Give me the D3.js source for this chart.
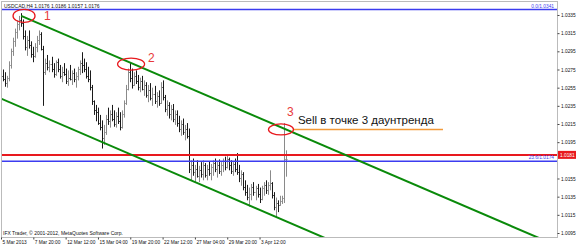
<!DOCTYPE html>
<html><head><meta charset="utf-8">
<script src="https://cdn.jsdelivr.net/npm/d3@7"></script>
<style>body{margin:0;background:#fff}svg{display:block}</style>
</head><body>
<svg id="c" width="576" height="246"></svg>
<script>
// ---------- DATA ----------
const symbol = "USDCAD,H4 1.0176 1.0186 1.0157 1.0176";
const copyright = "IFX Trader, \u00a9 2001-2012, MetaQuotes Software Corp.";
const xLabelBars = [0, 16, 32, 48, 64, 80, 96, 112, 128];
const xLabels = ["5 Mar 2013","7 Mar 20:00","12 Mar 12:00","15 Mar 04:00","19 Mar 20:00","22 Mar 12:00","27 Mar 04:00","29 Mar 20:00","3 Apr 12:00"];
const yTicks = [1.0335,1.0315,1.0295,1.0275,1.0255,1.0235,1.0215,1.0195,1.0155,1.0135,1.0115,1.0095];
const opens = [1.0262,1.0268,1.0265,1.0260,1.0266,1.0280,1.0295,1.0306,1.0316,1.0325,
1.0330,1.0326,1.0312,1.0300,1.0308,1.0302,1.0292,1.0290,1.0300,1.0308,
1.0314,1.0298,1.0272,1.0282,1.0278,1.0281,1.0276,1.0270,1.0283,1.0276,
1.0268,1.0272,1.0270,1.0262,1.0266,1.0265,1.0271,1.0264,1.0268,1.0276,
1.0282,1.0280,1.0276,1.0268,1.0264,1.0256,1.0240,1.0230,1.0228,1.0216,
1.0212,1.0200,1.0206,1.0220,1.0218,1.0226,1.0221,1.0215,1.0224,1.0218,
1.0212,1.0226,1.0238,1.0254,1.0272,1.0266,1.0258,1.0268,1.0262,1.0256,
1.0262,1.0254,1.0258,1.0247,1.0252,1.0244,1.0248,1.0240,1.0246,1.0238,
1.0256,1.0245,1.0232,1.0236,1.0226,1.0232,1.0220,1.0226,1.0216,1.0210,
1.0215,1.0206,1.0210,1.0202,1.0166,1.0170,1.0162,1.0166,1.0158,1.0164,
1.0160,1.0170,1.0159,1.0165,1.0161,1.0168,1.0172,1.0165,1.0170,1.0163,
1.0170,1.0174,1.0168,1.0176,1.0170,1.0163,1.0171,1.0166,1.0162,1.0155,
1.0160,1.0146,1.0140,1.0135,1.0138,1.0146,1.0140,1.0144,1.0138,1.0132,
1.0144,1.0148,1.0142,1.0148,1.0150,1.0137,1.0124,1.0128,1.0126,1.0130,
1.0133,1.0176];
const highs = [1.0270,1.0275,1.0272,1.0268,1.0284,1.0298,1.0310,1.0320,1.0329,1.0334,
1.0337,1.0330,1.0318,1.0312,1.0318,1.0306,1.0300,1.0304,1.0312,1.0318,
1.0316,1.0301,1.0287,1.0291,1.0285,1.0289,1.0282,1.0285,1.0287,1.0280,
1.0278,1.0282,1.0276,1.0274,1.0280,1.0274,1.0276,1.0272,1.0278,1.0285,
1.0294,1.0287,1.0283,1.0278,1.0274,1.0258,1.0241,1.0236,1.0233,1.0225,
1.0219,1.0214,1.0225,1.0233,1.0230,1.0236,1.0230,1.0228,1.0233,1.0228,
1.0230,1.0241,1.0258,1.0276,1.0283,1.0276,1.0272,1.0274,1.0269,1.0266,
1.0268,1.0263,1.0261,1.0258,1.0260,1.0255,1.0257,1.0250,1.0252,1.0261,
1.0263,1.0247,1.0241,1.0239,1.0236,1.0237,1.0230,1.0230,1.0224,1.0219,
1.0221,1.0214,1.0216,1.0210,1.0175,1.0177,1.0170,1.0175,1.0169,1.0173,
1.0175,1.0172,1.0170,1.0174,1.0171,1.0175,1.0177,1.0173,1.0176,1.0173,
1.0177,1.0179,1.0181,1.0178,1.0175,1.0173,1.0177,1.0183,1.0170,1.0164,
1.0162,1.0153,1.0148,1.0145,1.0149,1.0151,1.0147,1.0149,1.0145,1.0147,
1.0151,1.0153,1.0151,1.0164,1.0151,1.0140,1.0134,1.0131,1.0136,1.0136,
1.0216,1.0186];
const lows = [1.0258,1.0262,1.0256,1.0255,1.0262,1.0276,1.0290,1.0300,1.0309,1.0318,
1.0322,1.0308,1.0296,1.0290,1.0298,1.0288,1.0283,1.0288,1.0294,1.0302,
1.0296,1.0235,1.0269,1.0274,1.0272,1.0272,1.0266,1.0268,1.0272,1.0265,
1.0261,1.0268,1.0259,1.0257,1.0263,1.0258,1.0261,1.0255,1.0263,1.0269,
1.0271,1.0272,1.0265,1.0261,1.0252,1.0236,1.0225,1.0218,1.0214,1.0208,
1.0188,1.0192,1.0203,1.0214,1.0211,1.0218,1.0212,1.0211,1.0215,1.0208,
1.0210,1.0222,1.0236,1.0252,1.0261,1.0254,1.0257,1.0259,1.0252,1.0250,
1.0252,1.0246,1.0244,1.0239,1.0241,1.0235,1.0237,1.0233,1.0235,1.0237,
1.0241,1.0228,1.0224,1.0221,1.0219,1.0217,1.0214,1.0212,1.0206,1.0202,
1.0203,1.0197,1.0199,1.0161,1.0153,1.0158,1.0150,1.0156,1.0151,1.0156,
1.0153,1.0156,1.0153,1.0158,1.0153,1.0158,1.0162,1.0156,1.0160,1.0158,
1.0162,1.0164,1.0166,1.0164,1.0160,1.0158,1.0162,1.0159,1.0151,1.0147,
1.0142,1.0136,1.0131,1.0124,1.0131,1.0136,1.0131,1.0134,1.0128,1.0131,
1.0136,1.0138,1.0137,1.0142,1.0133,1.0120,1.0112,1.0118,1.0125,1.0127,
1.0128,1.0157];
const closes = [1.0268,1.0265,1.0260,1.0266,1.0280,1.0295,1.0306,1.0316,1.0325,1.0330,
1.0326,1.0312,1.0300,1.0308,1.0302,1.0292,1.0290,1.0300,1.0308,1.0314,
1.0298,1.0272,1.0282,1.0278,1.0281,1.0276,1.0270,1.0283,1.0276,1.0268,
1.0272,1.0270,1.0262,1.0266,1.0265,1.0271,1.0264,1.0268,1.0276,1.0282,
1.0280,1.0276,1.0268,1.0264,1.0256,1.0240,1.0230,1.0228,1.0216,1.0212,
1.0200,1.0206,1.0220,1.0218,1.0226,1.0221,1.0215,1.0224,1.0218,1.0212,
1.0226,1.0238,1.0254,1.0272,1.0266,1.0258,1.0268,1.0262,1.0256,1.0262,
1.0254,1.0258,1.0247,1.0252,1.0244,1.0248,1.0240,1.0246,1.0238,1.0256,
1.0245,1.0232,1.0236,1.0226,1.0232,1.0220,1.0226,1.0216,1.0210,1.0215,
1.0206,1.0210,1.0202,1.0166,1.0170,1.0162,1.0166,1.0158,1.0164,1.0160,
1.0170,1.0159,1.0165,1.0161,1.0168,1.0172,1.0165,1.0170,1.0163,1.0170,
1.0174,1.0168,1.0176,1.0170,1.0163,1.0171,1.0166,1.0162,1.0155,1.0160,
1.0146,1.0140,1.0135,1.0138,1.0146,1.0140,1.0144,1.0138,1.0132,1.0144,
1.0148,1.0142,1.0148,1.0150,1.0137,1.0124,1.0128,1.0126,1.0130,1.0133,
1.0176,1.0176];
// channel lines: [barIndex, price]
const upperChannel = [[10, 1.0334], [140, 1.0210]];
const lowerChannel = [[0, 1.0243], [140, 1.0109]];
// horizontal levels
const fibLevels = [{price: 1.0341, label: "0.0/1.0341"}, {price: 1.0174, label: "23.6/1.0174"}];
const priceLine = 1.0181;
// annotations
const circles = [{bar: 11.4, price: 1.0334, rx: 11, ry: 6.5}, {bar: 64.4, price: 1.0281, rx: 13.5, ry: 6}, {bar: 138.6, price: 1.0209, rx: 12.5, ry: 5.5}];
const circleNums = [{bar: 21.3, price: 1.0330, text: "1"}, {bar: 72.8, price: 1.0283, text: "2"}, {bar: 141.6, price: 1.0224, text: "3"}];
const sellLine = {from: 144.6, to: 218.8, price: 1.0209};
const sellText = {bar: 147, price: 1.0215, text: "Sell в точке 3 даунтренда"};

// ---------- CHART ----------
const svg = d3.select("#c");
const L = 2, R = 557, T = 2, B = 237;
const x = d3.scaleLinear().domain([0, 275]).range([1, 556.5]);
const y = d3.scaleLinear().domain([1.00906, 1.03493]).range([B, T]);
const font = "'Liberation Sans', Arial, sans-serif";
const fs = 4.8;

svg.append("defs").append("clipPath").attr("id", "clip")
  .append("rect").attr("x", L).attr("y", T).attr("width", R - L).attr("height", B - T);
const plot = svg.append("g").attr("clip-path", "url(#clip)");

// bars
const px = i => Math.round(x(i)) + 0.5;
const py = v => Math.round(y(v)) + 0.5;
const bars = plot.append("g");
opens.forEach((o, i) => {
  const col = closes[i] >= o ? "#8a8a8a" : "#1a1a1a";
  const g = bars.append("g").attr("stroke", col).attr("stroke-width", 1);
  g.append("line").attr("x1", px(i)).attr("x2", px(i)).attr("y1", y(highs[i])).attr("y2", y(lows[i]));
  g.append("line").attr("x1", px(i) - 1).attr("x2", px(i)).attr("y1", py(o)).attr("y2", py(o));
  g.append("line").attr("x1", px(i)).attr("x2", px(i) + 1).attr("y1", py(closes[i])).attr("y2", py(closes[i]));
});

// horizontal levels
fibLevels.forEach(f => {
  plot.append("line").attr("x1", 0).attr("x2", R).attr("y1", y(f.price)).attr("y2", y(f.price))
    .attr("stroke", "#3c3cf0").attr("stroke-width", 1.5);
  svg.append("text").attr("x", R - 3).attr("y", y(f.price) - 2).attr("text-anchor", "end")
    .attr("font-family", font).attr("font-size", fs).attr("fill", "#3c3cf0").text(f.label);
});
plot.append("line").attr("x1", 0).attr("x2", R).attr("y1", y(priceLine)).attr("y2", y(priceLine))
  .attr("stroke", "#e8191e").attr("stroke-width", 2);

// channel lines (extended)
function extend(pts, x0, x1) {
  const [a, b] = pts; const k = (b[1] - a[1]) / (b[0] - a[0]);
  return [[x0, a[1] + k * (x0 - a[0])], [x1, a[1] + k * (x1 - a[0])]];
}
const lineGen = d3.line().x(d => x(d[0])).y(d => y(d[1]));
plot.append("path").attr("d", lineGen(extend(upperChannel, upperChannel[0][0], 275)))
  .attr("fill", "none").attr("stroke", "#0a8a0a").attr("stroke-width", 2);
plot.append("path").attr("d", lineGen(extend(lowerChannel, -1, 275)))
  .attr("fill", "none").attr("stroke", "#0a8a0a").attr("stroke-width", 2);

// sell line
plot.append("line").attr("x1", x(sellLine.from)).attr("x2", x(sellLine.to))
  .attr("y1", y(sellLine.price)).attr("y2", y(sellLine.price))
  .attr("stroke", "#f29a3a").attr("stroke-width", 1.6);

// circles
circles.forEach(c => {
  plot.append("ellipse").attr("cx", x(c.bar)).attr("cy", y(c.price)).attr("rx", c.rx).attr("ry", c.ry)
    .attr("fill", "none").attr("stroke", "#e8191e").attr("stroke-width", 1.3);
});
circleNums.forEach(n => {
  svg.append("text").attr("x", x(n.bar)).attr("y", y(n.price)).attr("font-family", font)
    .attr("font-size", 12).attr("fill", "#e83a3a").text(n.text);
});
svg.append("text").attr("x", x(sellText.bar)).attr("y", y(sellText.price)).attr("font-family", font)
  .attr("font-size", 11.5).attr("fill", "#111").text(sellText.text);

// header and copyright
svg.append("text").attr("x", 4).attr("y", 8).attr("font-family", font).attr("font-size", 5)
  .attr("fill", "#111").text(symbol);
svg.append("text").attr("x", 3).attr("y", 235).attr("font-family", font).attr("font-size", 5)
  .attr("fill", "#111").text(copyright);

// frame
svg.append("rect").attr("x", 1.5).attr("y", 1.5).attr("width", R - 1).attr("height", B - 1)
  .attr("fill", "none").attr("stroke", "#777").attr("stroke-dasharray", "1,1");

// right axis
const yAxis = svg.append("g").attr("transform", `translate(${R + 0.5},0)`)
  .call(d3.axisRight(y).tickValues(yTicks).tickFormat(d3.format(".4f")).tickSize(2).tickPadding(1.5));
yAxis.select(".domain").remove();
yAxis.selectAll("text").attr("font-family", font).attr("font-size", fs).attr("fill", "#111");
yAxis.selectAll("line").attr("stroke", "#444");

// price label box
svg.append("rect").attr("x", R + 1).attr("y", y(priceLine) - 4).attr("width", 576 - R - 1).attr("height", 8)
  .attr("fill", "#e8191e");
svg.append("text").attr("x", R + 3).attr("y", y(priceLine) + 1.8).attr("font-family", font)
  .attr("font-size", fs).attr("fill", "#fff").text(d3.format(".4f")(priceLine));

// bottom axis
const xAxis = svg.append("g").attr("transform", `translate(0,${B + 0.5})`)
  .call(d3.axisBottom(x).tickValues(xLabelBars).tickFormat((d, i) => xLabels[i]).tickSize(2).tickPadding(1));
xAxis.select(".domain").remove();
xAxis.selectAll("text").attr("text-anchor", "start").attr("dx", 1).attr("font-family", font)
  .attr("font-size", fs).attr("fill", "#111");
xAxis.selectAll("line").attr("stroke", "#444");
</script>
</body></html>
